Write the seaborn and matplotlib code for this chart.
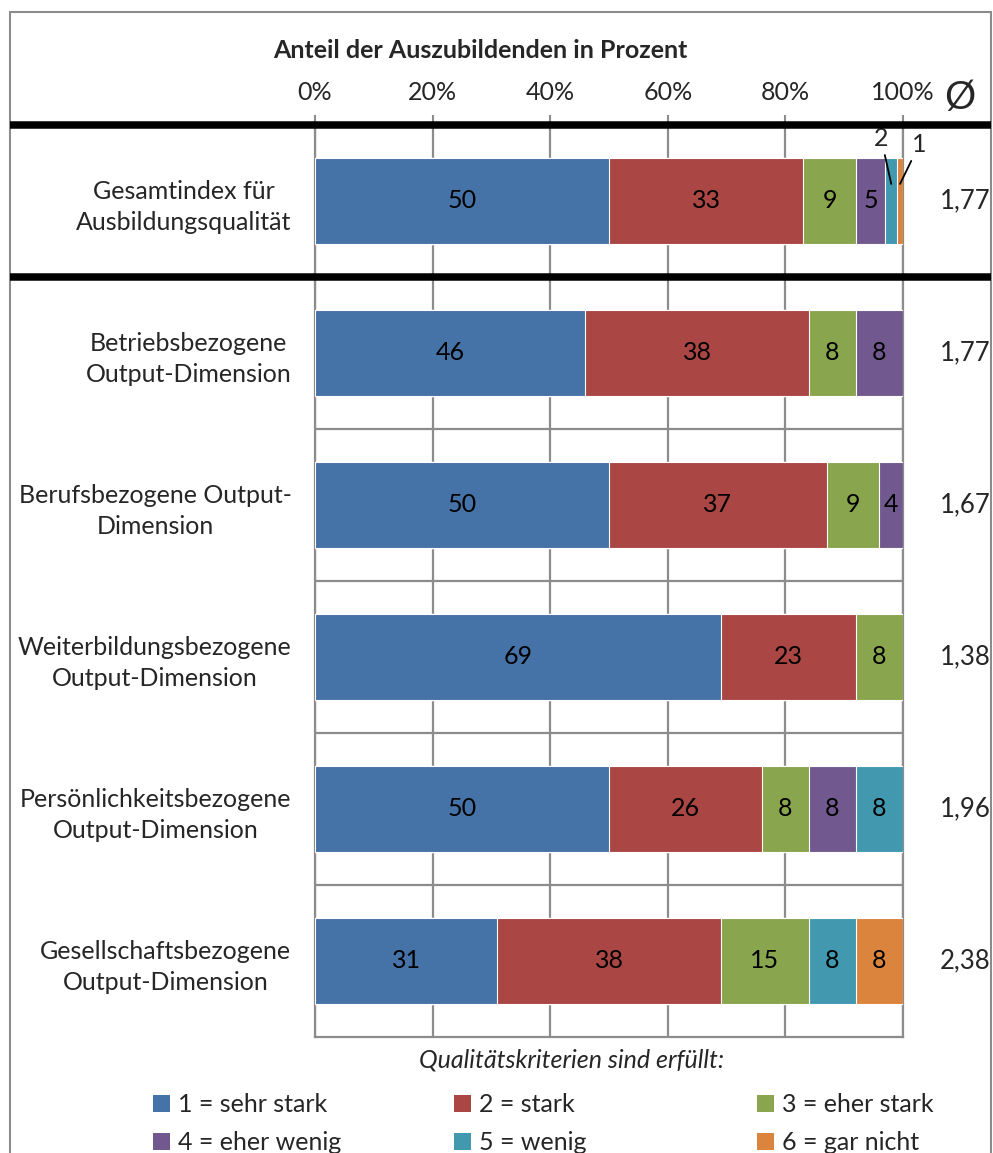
import numpy as np
import pandas as pd
import matplotlib
matplotlib.use("Agg")
import matplotlib.pyplot as plt
import seaborn as sns
from matplotlib.lines import Line2D
from matplotlib.patches import Patch, Rectangle
from matplotlib.transforms import blended_transform_factory

# ---- data -------------------------------------------------------------
categories = [
    "Gesamtindex für\nAusbildungsqualität",
    "Betriebsbezogene\nOutput-Dimension",
    "Berufsbezogene Output-\nDimension",
    "Weiterbildungsbezogene\nOutput-Dimension",
    "Persönlichkeitsbezogene\nOutput-Dimension",
    "Gesellschaftsbezogene\nOutput-Dimension",
]
levels = ["1 = sehr stark", "2 = stark", "3 = eher stark",
          "4 = eher wenig", "5 = wenig", "6 = gar nicht"]
sehr_stark = [50, 46, 50, 69, 50, 31]
stark = [33, 38, 37, 23, 26, 38]
eher_stark = [9, 8, 9, 8, 8, 15]
eher_wenig = [5, 8, 4, 0, 8, 0]
wenig = [2, 0, 0, 0, 8, 8]
gar_nicht = [1, 0, 0, 0, 0, 8]
averages = ["1,77", "1,77", "1,67", "1,38", "1,96", "2,38"]
xticks = [0, 20, 40, 60, 80, 100]

series = [sehr_stark, stark, eher_stark, eher_wenig, wenig, gar_nicht]
colors = ["#4572A7", "#AA4643", "#89A54E", "#71588F", "#4198AF", "#DB843D"]

# ---- style ------------------------------------------------------------
sns.set_theme(style="white")
plt.rcParams["font.family"] = ["Lato", "DejaVu Sans"]
FS = 18
GRID = "#8c8c8c"

W, H = 993, 1153
fig = plt.figure(figsize=(W / 100, H / 100), dpi=100)


def fx(px):
    return px / W


def fy(py):
    return 1 - py / H


ax = fig.add_axes([fx(315), fy(1037), fx(903) - fx(315), fy(125) - fy(1037)])

# cumulative shares: drawing longest first gives a stacked look
cum = np.cumsum(np.array(series, dtype=float), axis=0)
rows = []
for k, lev in enumerate(levels):
    for i, cat in enumerate(categories):
        rows.append({"Kategorie": cat, "Stufe": lev, "kum": cum[k, i],
                     "wert": series[k][i]})
df = pd.DataFrame(rows)

BAR_H = 0.565
sns.barplot(data=df, y="Kategorie", x="kum", hue="Stufe",
            hue_order=levels[::-1], palette=dict(zip(levels, colors)),
            order=categories, dodge=False, width=BAR_H, orient="h",
            saturation=1, edgecolor="white", linewidth=0.8, legend=False,
            ax=ax, zorder=3)

ax.set_xlim(0, 100)
ax.set_ylim(len(categories) - 0.5, -0.5)
ax.set_xlabel("")
ax.set_ylabel("")

# axis / grid
ax.xaxis.tick_top()
ax.set_xticks(xticks, labels=[f"{t}%" for t in xticks])
ax.tick_params(axis="x", top=True, bottom=False, length=7, width=1.5,
               color=GRID, pad=8, labelsize=FS)
ax.xaxis.grid(True, color=GRID, linewidth=1.6, zorder=0)
ax.set_axisbelow(True)
for y in np.arange(1.5, len(categories) - 0.5, 1.0):
    ax.axhline(y, color=GRID, linewidth=1.6, zorder=1)
for side in ["left", "right", "bottom"]:
    ax.spines[side].set_color(GRID)
    ax.spines[side].set_linewidth(1.6)
ax.spines["top"].set_visible(False)

ax.set_yticks(range(len(categories)), labels=categories)
ax.tick_params(axis="y", length=0, pad=17, labelsize=FS)
for lab in ax.get_yticklabels():
    lab.set_multialignment("center")
    lab.set_linespacing(1.42)

# thick separators across the full width
tr = blended_transform_factory(fig.transFigure, ax.transData)
for y in (-0.5, 0.5):
    fig.add_artist(Line2D([fx(10), fx(991)], [y, y], transform=tr,
                          color="black", linewidth=5.4, clip_on=False,
                          solid_capstyle="butt", zorder=5))

# outer frame
fig.add_artist(Rectangle((fx(10), -0.05), fx(991) - fx(10), fy(12) + 0.05,
                         transform=fig.transFigure, fill=False,
                         edgecolor=GRID, linewidth=1.5))

# segment labels
callout_offsets = {4: (-10, 45), 5: (19, 39)}
for k in range(len(series)):
    for i in range(len(categories)):
        v = series[k][i]
        if v == 0:
            continue
        cx = cum[k, i] - v / 2
        if v >= 3:
            ax.text(cx, i, str(v), ha="center", va="center", fontsize=FS,
                    color="black", zorder=6)
        else:
            dx, dy = callout_offsets[k]
            ax.annotate(str(v), xy=(cx, i - BAR_H / 2 + 0.17),
                        xytext=(dx * 0.72, dy * 0.72), textcoords="offset points",
                        ha="center", va="center", fontsize=FS,
                        arrowprops=dict(arrowstyle="-", color="black",
                                        lw=1.3, shrinkA=1, shrinkB=0),
                        zorder=6)

# averages column
ytr = ax.get_yaxis_transform()
for i, a in enumerate(averages):
    ax.text((965 - 315) / 588, i, a, transform=ytr, ha="center",
            va="center", fontsize=FS + 0.5)

fig.text(fx(960), fy(98), "Ø", ha="center", va="center", fontsize=28)
fig.text(fx(480), fy(50), "Anteil der Auszubildenden in Prozent",
         ha="center", va="center", fontsize=FS, fontweight="bold")
fig.text(fx(572), fy(1060), "Qualitätskriterien sind erfüllt:",
         ha="center", va="center", fontsize=FS, style="italic")

# legend in three columns
col_x = [153, 454, 757]
for c in range(3):
    idx = [c, c + 3]
    handles = [Patch(facecolor=colors[j], edgecolor="none") for j in idx]
    fig.legend(handles, [levels[j] for j in idx], loc="upper left",
               bbox_to_anchor=(fx(col_x[c]), fy(1093)), frameon=False,
               fontsize=FS, handlelength=0.66, handleheight=0.66,
               handletextpad=0.35, labelspacing=0.6, borderpad=0,
               borderaxespad=0)

fig.savefig("out.png", dpi=100)
